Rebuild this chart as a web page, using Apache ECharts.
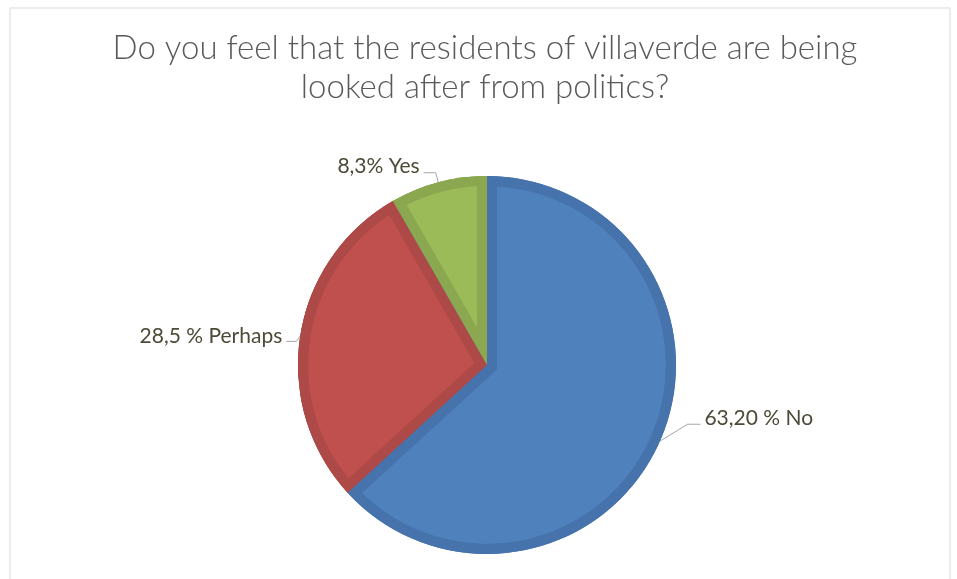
<!DOCTYPE html>
<html>
<head>
<meta charset="utf-8">
<script src="https://cdn.jsdelivr.net/npm/echarts@6/dist/echarts.min.js"></script>
<style>
  html, body { margin: 0; padding: 0; background: #ffffff; }
  #chart { width: 957px; height: 579px; }
</style>
</head>
<body>
<div id="chart"></div>
<script>
// Survey answers, in drawing order (clockwise from 12 o'clock)
const categories = ['No', 'Perhaps', 'Yes'];
const values = [63.20, 28.5, 8.3];
const valueTexts = ['63,20 %', '28,5 %', '8,3%'];
const titleLines = [
  'Do you feel that the residents of villaverde are being',
  'looked after from politics?'
];

// Fill and inner-border colours per answer
const fillColors = ['#4F81BD', '#C0504D', '#9BBB59'];
const edgeColors = ['#4673AC', '#AD4946', '#8BA850'];

const CENTER = [487, 365];
const R = 189;      // outer radius
const EDGE = 10;    // width of the darker inner border

// leader line shape and label nudges per answer
const leaderLen = [30, 4, 10];
const leaderLen2 = [13, 10, 12];
const leaderShiftY = [-29, 6, 0];
const textShiftY = [-35, 1, -6];

const total = values.reduce((a, b) => a + b, 0);
const halfSweep = v => Math.PI * v / total;  // half of a slice's angle, radians

const clear = 'rgba(0,0,0,0)';

function basePie(extra) {
  return Object.assign({
    type: 'pie',
    center: CENTER,
    startAngle: 90,
    clockwise: true,
    minAngle: 0,
    silent: true,
    avoidLabelOverlap: false,
    label: { show: false },
    labelLine: { show: false },
    emphasis: { disabled: true },
    itemStyle: { borderWidth: 0 }
  }, extra);
}

const series = [];

// 1. every slice in its border colour, full radius (also carries the labels)
series.push(basePie({
  radius: R,
  z: 1,
  data: values.map((v, i) => ({
    name: categories[i],
    value: v,
    itemStyle: { color: edgeColors[i] },
    labelLine: { length: leaderLen[i], length2: leaderLen2[i] }
  })),
  label: {
    show: true,
    position: 'outer',
    alignTo: 'none',
    distanceToLabelLine: 4,
    color: '#4d4a38',
    fontFamily: 'Lato',
    fontSize: 21,
    formatter: p => valueTexts[p.dataIndex] + ' ' + categories[p.dataIndex]
  },
  labelLine: {
    show: true,
    lineStyle: { color: '#a6a6a6', width: 1 }
  },
  labelLayout: p => {
    const i = p.dataIndex;
    const pts = p.labelLinePoints;
    const out = { dy: textShiftY[i] };
    if (pts && pts.length === 3) {
      out.labelLinePoints = [
        pts[0].slice(),
        [pts[1][0], pts[1][1] + leaderShiftY[i]],
        [pts[2][0], pts[2][1] + leaderShiftY[i]]
      ];
    }
    return out;
  }
}));

// 2. fill of the large slice, inset from the rim
series.push(basePie({
  radius: R - EDGE,
  z: 2,
  data: values.map((v, i) => ({
    value: v,
    itemStyle: { color: i === 0 ? fillColors[0] : clear }
  }))
}));

// 3. border band of the large slice along its straight edges:
//    the rest of the pie, pushed back across those edges
const rest = total - values[0];
series.push(basePie({
  radius: R,
  z: 3,
  selectedMode: 'single',
  selectedOffset: -EDGE / Math.sin(halfSweep(rest)),
  select: { itemStyle: { borderWidth: 0 } },
  data: [
    { value: values[0], itemStyle: { color: clear } },
    { value: rest, selected: true, itemStyle: { color: edgeColors[0] } }
  ]
}));

// 4. the smaller slices in their border colour again
series.push(basePie({
  radius: R,
  z: 4,
  data: values.map((v, i) => ({
    value: v,
    itemStyle: { color: i === 0 ? clear : edgeColors[i] }
  }))
}));

// 5. fills of the smaller slices, shifted inward along their bisectors
for (let k = 1; k < values.length; k++) {
  const h = halfSweep(values[k]);
  const shift = EDGE / Math.sin(h);
  const rFill = ((R - EDGE - EDGE / Math.tan(h)) + (R - shift)) / 2;
  series.push(basePie({
    radius: rFill,
    z: 5,
    selectedMode: 'single',
    selectedOffset: shift,
    select: { itemStyle: { borderWidth: 0 } },
    data: values.map((v, i) => ({
      value: v,
      selected: i === k,
      itemStyle: { color: i === k ? fillColors[k] : clear }
    }))
  }));
}

// 6. rim ring in border colours
series.push(basePie({
  radius: [R - EDGE, R],
  z: 6,
  data: values.map((v, i) => ({
    value: v,
    itemStyle: { color: edgeColors[i] }
  }))
}));

const titleStyle = {
  fill: '#595959',
  font: '300 33px Lato',
  align: 'center',
  verticalAlign: 'middle'
};

const chart = echarts.init(document.getElementById('chart'), null, { renderer: 'canvas' });
chart.setOption({
  animation: false,
  backgroundColor: '#ffffff',
  graphic: [
    {
      type: 'rect',
      shape: { x: 10, y: 8, width: 940, height: 600 },
      style: { fill: 'none', stroke: '#d9d9d9', lineWidth: 1 },
      silent: true,
      z: 0
    },
    {
      type: 'text',
      x: 485,
      y: 48,
      style: Object.assign({ text: titleLines[0] }, titleStyle),
      silent: true
    },
    {
      type: 'text',
      x: 485,
      y: 87,
      style: Object.assign({ text: titleLines[1] }, titleStyle),
      silent: true
    }
  ],
  series: series
});
</script>
</body>
</html>
